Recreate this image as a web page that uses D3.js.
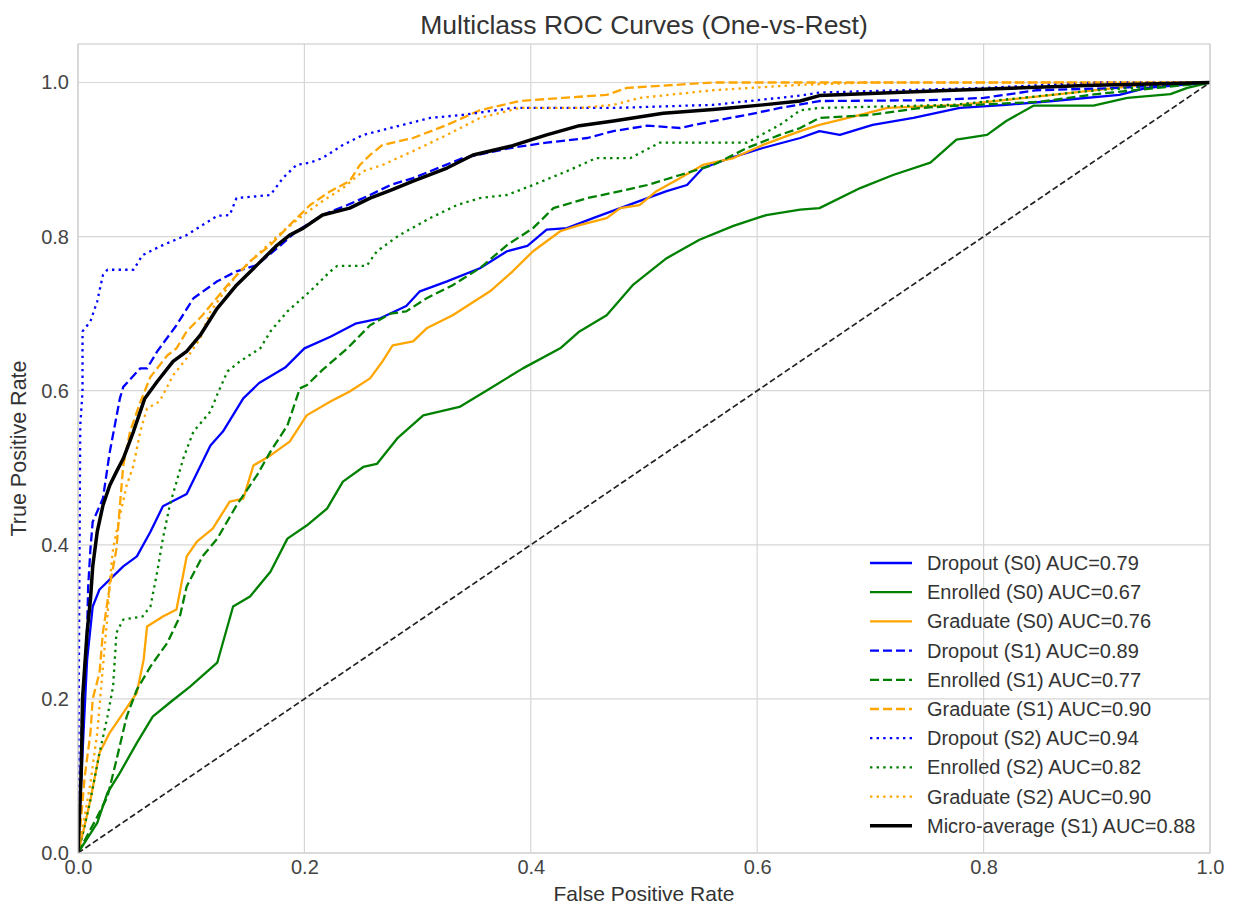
<!DOCTYPE html>
<html>
<head>
<meta charset="utf-8">
<script src="https://cdn.jsdelivr.net/npm/d3@7"></script>
<style>
  body { margin: 0; background: #fff; }
  svg { display: block; font-family: "Liberation Sans", Arial, sans-serif; }
</style>
</head>
<body>
<div id="chart"></div>
<script>
// ROC points: [fpr, tpr]
const dropoutS0 = [[0,0],[0.003,0.1],[0.008,0.25],[0.013,0.32],[0.019,0.342],[0.04,0.372],[0.052,0.385],[0.064,0.417],[0.075,0.45],[0.096,0.466],[0.117,0.529],[0.128,0.547],[0.146,0.59],[0.16,0.61],[0.183,0.63],[0.2,0.655],[0.223,0.67],[0.245,0.687],[0.267,0.694],[0.29,0.71],[0.302,0.729],[0.326,0.742],[0.355,0.759],[0.379,0.781],[0.397,0.788],[0.414,0.809],[0.432,0.811],[0.455,0.824],[0.479,0.837],[0.503,0.85],[0.52,0.859],[0.538,0.867],[0.552,0.889],[0.576,0.902],[0.605,0.915],[0.638,0.928],[0.655,0.937],[0.673,0.932],[0.702,0.945],[0.738,0.954],[0.779,0.967],[0.82,0.971],[0.861,0.976],[0.92,0.984],[0.944,0.993],[1,1]];
const enrolledS0 = [[0,0],[0.017,0.039],[0.026,0.078],[0.037,0.104],[0.052,0.143],[0.066,0.177],[0.081,0.195],[0.099,0.216],[0.123,0.247],[0.137,0.32],[0.152,0.333],[0.17,0.365],[0.185,0.408],[0.202,0.425],[0.22,0.447],[0.234,0.482],[0.252,0.501],[0.264,0.505],[0.282,0.538],[0.305,0.568],[0.337,0.579],[0.364,0.603],[0.393,0.629],[0.426,0.655],[0.443,0.677],[0.467,0.698],[0.49,0.737],[0.52,0.772],[0.549,0.796],[0.579,0.814],[0.608,0.828],[0.638,0.835],[0.655,0.837],[0.691,0.863],[0.72,0.88],[0.753,0.896],[0.776,0.926],[0.803,0.932],[0.82,0.95],[0.844,0.97],[0.897,0.97],[0.927,0.98],[0.965,0.985],[0.98,0.993],[1,1]];
const graduateS0 = [[0,0],[0.005,0.03],[0.011,0.069],[0.019,0.13],[0.028,0.156],[0.04,0.182],[0.052,0.208],[0.058,0.251],[0.061,0.294],[0.075,0.307],[0.087,0.316],[0.096,0.385],[0.105,0.404],[0.119,0.421],[0.134,0.456],[0.146,0.46],[0.155,0.503],[0.17,0.516],[0.187,0.534],[0.202,0.568],[0.223,0.586],[0.24,0.599],[0.258,0.616],[0.269,0.638],[0.278,0.659],[0.296,0.664],[0.308,0.681],[0.331,0.698],[0.364,0.729],[0.384,0.755],[0.402,0.781],[0.426,0.807],[0.443,0.815],[0.467,0.824],[0.479,0.837],[0.496,0.841],[0.511,0.859],[0.532,0.876],[0.552,0.893],[0.579,0.902],[0.605,0.919],[0.638,0.937],[0.655,0.945],[0.691,0.958],[0.715,0.967],[0.779,0.971],[0.861,0.984],[0.935,0.996],[1,1]];
const dropoutS1 = [[0,0],[0.002,0.1],[0.004,0.2],[0.008,0.286],[0.009,0.346],[0.011,0.395],[0.013,0.43],[0.022,0.46],[0.028,0.52],[0.037,0.59],[0.04,0.605],[0.055,0.629],[0.061,0.629],[0.07,0.651],[0.087,0.685],[0.102,0.72],[0.123,0.742],[0.14,0.755],[0.158,0.763],[0.176,0.785],[0.193,0.807],[0.216,0.828],[0.238,0.841],[0.258,0.854],[0.276,0.867],[0.296,0.876],[0.34,0.902],[0.382,0.915],[0.414,0.922],[0.45,0.928],[0.473,0.937],[0.503,0.944],[0.532,0.941],[0.561,0.95],[0.591,0.958],[0.62,0.967],[0.655,0.976],[0.75,0.977],[0.8,0.98],[0.847,0.99],[0.92,0.993],[1,1]];
const enrolledS1 = [[0,0],[0.017,0.047],[0.026,0.073],[0.034,0.121],[0.043,0.177],[0.052,0.212],[0.064,0.242],[0.079,0.273],[0.09,0.307],[0.096,0.346],[0.11,0.385],[0.123,0.408],[0.14,0.451],[0.158,0.49],[0.17,0.521],[0.185,0.555],[0.196,0.603],[0.202,0.607],[0.216,0.627],[0.238,0.655],[0.258,0.685],[0.276,0.7],[0.29,0.703],[0.308,0.72],[0.331,0.737],[0.355,0.759],[0.379,0.789],[0.402,0.811],[0.42,0.837],[0.45,0.85],[0.479,0.859],[0.503,0.867],[0.532,0.88],[0.561,0.893],[0.591,0.915],[0.62,0.932],[0.638,0.941],[0.655,0.954],[0.7,0.958],[0.744,0.967],[0.779,0.97],[0.85,0.975],[0.9,0.985],[1,1]];
const graduateS1 = [[0,0],[0.003,0.05],[0.006,0.1],[0.011,0.156],[0.013,0.2],[0.019,0.234],[0.022,0.286],[0.028,0.346],[0.034,0.395],[0.037,0.451],[0.04,0.503],[0.046,0.547],[0.055,0.585],[0.064,0.618],[0.079,0.646],[0.087,0.655],[0.096,0.677],[0.11,0.698],[0.132,0.737],[0.152,0.768],[0.17,0.789],[0.187,0.815],[0.205,0.841],[0.223,0.859],[0.24,0.872],[0.249,0.893],[0.258,0.906],[0.269,0.919],[0.296,0.928],[0.326,0.945],[0.355,0.964],[0.39,0.976],[0.428,0.98],[0.467,0.984],[0.485,0.993],[0.517,0.996],[0.561,1],[1,1]];
const dropoutS2 = [[0,0],[0.001,0.3],[0.002,0.555],[0.004,0.599],[0.004,0.677],[0.011,0.69],[0.017,0.716],[0.022,0.75],[0.026,0.757],[0.049,0.757],[0.057,0.776],[0.075,0.789],[0.096,0.802],[0.11,0.815],[0.123,0.827],[0.134,0.828],[0.14,0.85],[0.17,0.854],[0.181,0.876],[0.193,0.893],[0.205,0.896],[0.216,0.902],[0.234,0.919],[0.252,0.932],[0.276,0.941],[0.311,0.954],[0.34,0.958],[0.384,0.967],[0.473,0.967],[0.561,0.971],[0.638,0.983],[0.655,0.987],[0.8,0.993],[0.9,1],[1,1]];
const enrolledS2 = [[0,0],[0.005,0.03],[0.011,0.069],[0.019,0.13],[0.026,0.177],[0.031,0.216],[0.034,0.286],[0.04,0.303],[0.057,0.307],[0.064,0.32],[0.07,0.365],[0.075,0.408],[0.081,0.451],[0.093,0.512],[0.102,0.547],[0.117,0.573],[0.123,0.595],[0.132,0.625],[0.143,0.638],[0.161,0.655],[0.17,0.677],[0.185,0.703],[0.205,0.729],[0.223,0.755],[0.229,0.762],[0.255,0.762],[0.264,0.781],[0.284,0.802],[0.311,0.824],[0.335,0.841],[0.355,0.85],[0.379,0.854],[0.402,0.867],[0.432,0.885],[0.458,0.902],[0.488,0.902],[0.514,0.922],[0.591,0.922],[0.62,0.945],[0.638,0.964],[0.655,0.967],[0.773,0.971],[0.9,0.99],[1,1]];
const graduateS2 = [[0,0],[0.005,0.04],[0.011,0.091],[0.017,0.156],[0.022,0.242],[0.026,0.307],[0.028,0.351],[0.031,0.395],[0.037,0.438],[0.043,0.477],[0.049,0.503],[0.055,0.547],[0.061,0.577],[0.072,0.586],[0.084,0.62],[0.096,0.642],[0.108,0.668],[0.117,0.703],[0.14,0.75],[0.158,0.776],[0.181,0.807],[0.199,0.828],[0.216,0.846],[0.234,0.863],[0.252,0.885],[0.269,0.893],[0.296,0.911],[0.326,0.932],[0.355,0.954],[0.39,0.967],[0.443,0.967],[0.473,0.971],[0.496,0.98],[0.561,0.99],[0.638,0.997],[0.7,1],[1,1]];
const microS1 = [[0,0],[0.003,0.112],[0.004,0.2],[0.008,0.286],[0.011,0.329],[0.013,0.372],[0.017,0.417],[0.022,0.451],[0.028,0.477],[0.034,0.495],[0.04,0.512],[0.049,0.547],[0.059,0.59],[0.07,0.612],[0.084,0.638],[0.096,0.651],[0.108,0.672],[0.123,0.707],[0.14,0.737],[0.158,0.763],[0.176,0.789],[0.187,0.802],[0.199,0.811],[0.216,0.828],[0.24,0.837],[0.258,0.85],[0.276,0.86],[0.296,0.872],[0.326,0.889],[0.349,0.906],[0.384,0.918],[0.414,0.932],[0.443,0.944],[0.473,0.95],[0.517,0.96],[0.561,0.965],[0.605,0.971],[0.638,0.976],[0.655,0.983],[0.773,0.99],[0.89,0.996],[1,1]];
const chanceLine = [[0,0],[1,1]];

const classNames = ['Dropout', 'Enrolled', 'Graduate'];
const classColors = ['#0000ff', '#008000', '#ffa500'];
const aucValues = [[0.79, 0.67, 0.76], [0.89, 0.77, 0.90], [0.94, 0.82, 0.90]];
const microAuc = 0.88;
const xTicks = [0, 0.2, 0.4, 0.6, 0.8, 1.0];
const yTicks = [0, 0.2, 0.4, 0.6, 0.8, 1.0];

const curves = [
  [dropoutS0, enrolledS0, graduateS0],
  [dropoutS1, enrolledS1, graduateS1],
  [dropoutS2, enrolledS2, graduateS2],
];
const dashes = [null, '9,4', '2.4,4.2'];

const width = 1233, height = 908;
const margin = { top: 44, right: 23, bottom: 55, left: 78 };

const svg = d3.select('#chart').append('svg')
  .attr('width', width).attr('height', height);

const x = d3.scaleLinear().domain([0, 1]).range([margin.left, width - margin.right]);
const y = d3.scaleLinear().domain([0, 1.05]).range([height - margin.bottom, margin.top]);

svg.append('defs').append('clipPath').attr('id', 'plot-clip')
  .append('rect')
  .attr('x', margin.left).attr('y', margin.top)
  .attr('width', x(1) - x(0)).attr('height', y(0) - y(1.05));

// gridlines
const grid = svg.append('g').attr('class', 'grid');
grid.selectAll('.gx').data(xTicks).join('line')
  .attr('x1', d => x(d)).attr('x2', d => x(d))
  .attr('y1', y(0)).attr('y2', y(1.05))
  .attr('stroke', '#d6d6d6').attr('stroke-width', 1.2);
grid.selectAll('.gy').data(yTicks).join('line')
  .attr('x1', x(0)).attr('x2', x(1))
  .attr('y1', d => y(d)).attr('y2', d => y(d))
  .attr('stroke', '#d6d6d6').attr('stroke-width', 1.2);

// axes (text only, seaborn whitegrid has no tick marks)
const xAxis = svg.append('g')
  .attr('transform', `translate(0,${y(0)})`)
  .call(d3.axisBottom(x).tickValues(xTicks).tickFormat(d3.format('.1f')).tickSize(0).tickPadding(7));
const yAxis = svg.append('g')
  .attr('transform', `translate(${x(0)},0)`)
  .call(d3.axisLeft(y).tickValues(yTicks).tickFormat(d3.format('.1f')).tickSize(0).tickPadding(9));
[xAxis, yAxis].forEach(a => {
  a.select('.domain').remove();
  a.selectAll('text').attr('font-size', 20).attr('fill', '#444')
    .attr('font-family', '"Liberation Sans", Arial, sans-serif');
});

// curves
const line = d3.line().x(d => x(d[0])).y(d => y(d[1]));
const plot = svg.append('g').attr('clip-path', 'url(#plot-clip)');

curves.forEach((set, s) => {
  set.forEach((pts, c) => {
    plot.append('path')
      .attr('d', line(pts))
      .attr('fill', 'none')
      .attr('stroke', classColors[c])
      .attr('stroke-width', 2.3)
      .attr('stroke-dasharray', dashes[s])
      .attr('stroke-linejoin', 'round');
  });
});

plot.append('path')
  .attr('d', line(microS1))
  .attr('fill', 'none')
  .attr('stroke', '#000')
  .attr('stroke-width', 3.5)
  .attr('stroke-linejoin', 'round');

plot.append('path')
  .attr('d', line(chanceLine))
  .attr('fill', 'none')
  .attr('stroke', '#222')
  .attr('stroke-width', 1.7)
  .attr('stroke-dasharray', '6,3');

// frame
svg.append('rect')
  .attr('x', x(0)).attr('y', y(1.05))
  .attr('width', x(1) - x(0)).attr('height', y(0) - y(1.05))
  .attr('fill', 'none').attr('stroke', '#cfcfcf').attr('stroke-width', 1.2);

// title and axis labels
svg.append('text')
  .attr('x', (x(0) + x(1)) / 2).attr('y', 34)
  .attr('text-anchor', 'middle').attr('font-size', 26.5).attr('fill', '#333')
  .text('Multiclass ROC Curves (One-vs-Rest)');
svg.append('text')
  .attr('x', (x(0) + x(1)) / 2).attr('y', 901)
  .attr('text-anchor', 'middle').attr('font-size', 21).attr('fill', '#333')
  .text('False Positive Rate');
svg.append('text')
  .attr('transform', `translate(26,${(y(0) + y(1.05)) / 2}) rotate(-90)`)
  .attr('text-anchor', 'middle').attr('font-size', 21.5).attr('fill', '#333')
  .text('True Positive Rate');

// legend
const legendItems = [];
aucValues.forEach((row, s) => {
  row.forEach((auc, c) => {
    legendItems.push({
      label: `${classNames[c]} (S${s}) AUC=${auc.toFixed(2)}`,
      color: classColors[c], dash: dashes[s], width: 2.3,
    });
  });
});
legendItems.push({ label: `Micro-average (S1) AUC=${microAuc.toFixed(2)}`, color: '#000', dash: null, width: 3.5 });

const legend = svg.append('g').attr('transform', 'translate(870,563)');
legendItems.forEach((item, i) => {
  const row = legend.append('g').attr('transform', `translate(0,${i * 29.2})`);
  row.append('line')
    .attr('x1', 0).attr('x2', 42).attr('y1', 0).attr('y2', 0)
    .attr('stroke', item.color).attr('stroke-width', item.width)
    .attr('stroke-dasharray', item.dash);
  row.append('text')
    .attr('x', 57).attr('y', 0).attr('dy', '0.35em')
    .attr('font-size', 20).attr('fill', '#333')
    .text(item.label);
});
</script>
</body>
</html>
